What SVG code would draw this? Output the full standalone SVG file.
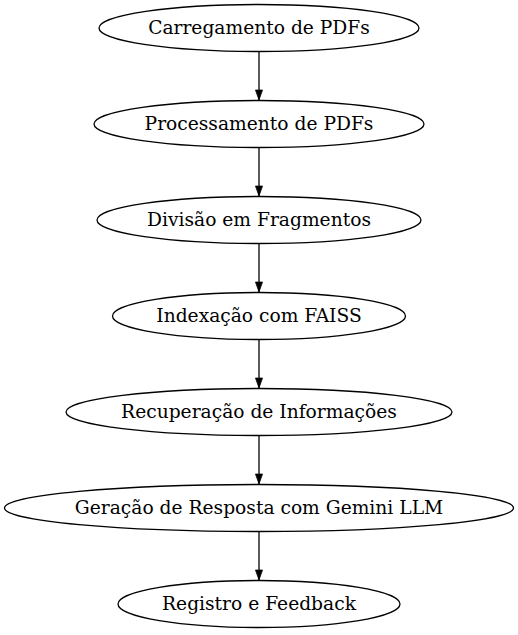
<svg xmlns="http://www.w3.org/2000/svg" width="518" height="635" viewBox="0 0 518 635">
<defs>
<style>
.node ellipse{fill:none;stroke:#000;stroke-width:1.3}
.node text{font-family:"DejaVu Serif",serif;font-size:18.67px;text-anchor:middle;fill:#000}
.edges line{stroke:#000;stroke-width:1.3}
</style>
<marker id="ah" markerWidth="10" markerHeight="10" viewBox="0 0 14 10" refX="14" refY="5" markerUnits="userSpaceOnUse" orient="auto" style="overflow:visible">
<path d="M0,0 L14,5 L0,10 Z" fill="#000" stroke="#000" stroke-width="1"/>
</marker>
</defs>
<rect width="518" height="635" fill="#fff"/>
<g id="edges" class="edges">
<line x1="259" y1="52" x2="259" y2="100" marker-end="url(#ah)"/>
<line x1="259" y1="148" x2="259" y2="196" marker-end="url(#ah)"/>
<line x1="259" y1="244" x2="259" y2="292" marker-end="url(#ah)"/>
<line x1="259" y1="340" x2="259" y2="388" marker-end="url(#ah)"/>
<line x1="259" y1="436" x2="259" y2="484" marker-end="url(#ah)"/>
<line x1="259" y1="532" x2="259" y2="580" marker-end="url(#ah)"/>
</g>
<g id="n1" class="node"><ellipse cx="259" cy="28" rx="160" ry="23.5"/><text x="259" y="34">Carregamento de PDFs</text></g>
<g id="n2" class="node"><ellipse cx="259" cy="124" rx="165" ry="23.5"/><text x="259" y="130">Processamento de PDFs</text></g>
<g id="n3" class="node"><ellipse cx="259" cy="220" rx="162" ry="23.5"/><text x="259" y="226">Divisão em Fragmentos</text></g>
<g id="n4" class="node"><ellipse cx="259" cy="316" rx="146.5" ry="23.5"/><text x="259" y="322">Indexação com FAISS</text></g>
<g id="n5" class="node"><ellipse cx="259" cy="412" rx="193" ry="23.5"/><text x="259" y="418">Recuperação de Informações</text></g>
<g id="n6" class="node"><ellipse cx="259" cy="508" rx="254.5" ry="23.5"/><text x="259" y="514">Geração de Resposta com Gemini LLM</text></g>
<g id="n7" class="node"><ellipse cx="259" cy="604" rx="141" ry="23.5"/><text x="259" y="610">Registro e Feedback</text></g>
</svg>
